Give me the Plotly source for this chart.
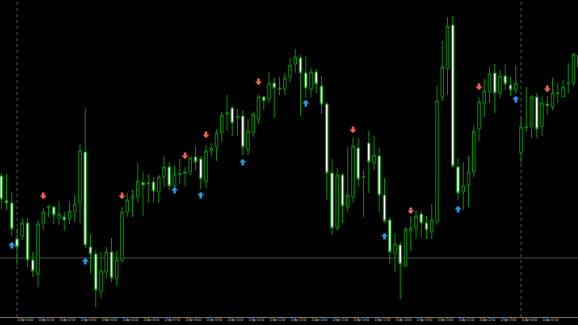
import plotly.graph_objects as go

# bar index: 0 = 13 Apr 00:00 (M15 bars)
bar_index = list(range(-3, 108))

opens = [141, 116.5, 114, 78, 81, 94, 57, 43, 94, 109, 110, 99, 100, 98, 105, 114, 165, 70, 63, 25,
         45, 65, 39, 57, 105, 118, 120, 134.5, 133.5, 135, 125, 140, 150, 131, 142.5, 143.5, 145, 160, 158, 135,
         166, 170, 184, 203, 209, 199, 201, 167, 184, 198, 220, 218, 234, 227.5, 228, 240, 253, 259, 244, 228,
         245, 231, 213, 144, 89, 142, 110, 120, 169, 139.5, 174, 154, 161, 122, 97, 64, 72, 51, 86, 89,
         103, 94, 85, 95, 220, 248, 292, 150, 125, 132, 145, 188, 214, 225, 244, 224, 241, 232, 227, 164,
         189.5, 190, 220, 191, 213, 210, 223.5, 220, 233.5, 234, 262]
highs = [144, 143, 125, 89, 99, 99, 65, 97, 109, 112, 111, 116, 105, 116, 122, 173, 209, 83, 67, 65,
         70, 79, 66, 110, 124, 127, 154, 145, 143, 140, 142, 161, 155, 151, 158, 150, 161, 171, 161, 172,
         174, 188, 205, 222, 211, 208, 207, 198, 205, 222, 221, 245, 239, 240, 244, 259, 268, 262, 261, 249,
         248, 241, 215, 158, 149, 144, 170, 180, 179, 147, 186, 181, 169, 139, 100, 84, 75, 90, 101, 107,
         106, 101, 113, 231, 276, 300, 301, 159, 155, 161, 192, 220, 238, 250, 253, 247, 253, 240, 252, 200,
         230, 222, 224, 221, 221, 239, 234, 237, 254, 264, 267]
lows = [108, 107, 81, 52, 77, 50, 40, 30, 87, 100, 93, 92, 86, 93, 95, 94, 69, 44, 10, 19,
        39, 35, 31, 54, 100, 100, 115, 101, 114, 115, 114, 130, 127, 125, 133, 131, 142, 147, 128, 129,
        160, 156, 175, 186, 181, 181, 162, 162, 180, 193, 207, 214, 199, 222, 222, 235, 244, 201, 219, 220,
        224, 203, 117, 82, 86, 94, 105, 114, 131, 100, 124, 147, 105, 94, 53, 45, 18, 50, 66, 78,
        80, 78, 78, 92, 216, 222, 149, 117, 107, 110, 140, 176, 200, 214, 204, 219, 227, 221, 223, 154,
        185, 179, 179, 181, 202, 207, 214, 220, 224, 231, 247]
closes = [118, 114, 88, 70, 94, 57, 46, 93, 105, 110, 102, 103, 97, 106, 113, 166, 72, 63, 27, 46,
          65, 39, 57, 105, 117, 121, 136, 132, 134, 126, 140, 150, 131, 143, 143, 145, 159, 155, 138, 166,
          169, 184, 202, 204, 194, 201, 170, 186, 203, 220, 216, 234, 229, 229, 239, 252, 260, 244, 229, 245,
          233, 213, 144, 89, 142, 111, 122, 171, 138, 140, 155, 162, 122, 96, 65, 73, 53, 88, 89, 101,
          94, 87, 97, 216, 250, 291, 151, 124, 131, 145, 186, 215, 226, 243, 224, 241, 233, 227, 234, 190,
          190, 220, 188, 214, 211.5, 224, 224, 230, 234, 263, 250]

# signal arrows (bar index, price of arrow tip)
buy_bars = [-1, 13, 30, 35, 43, 55, 70, 84, 95]
buy_tips = [75, 59, 130, 125, 158, 217, 84, 111, 221]
sell_bars = [5, 20, 32, 36, 46, 64, 75, 88, 101]
sell_tips = [118, 118, 158, 179, 232, 184, 103, 227, 225]

bid_level = 59
separator_bars = [0, 96]

label_bars = list(range(0, 108, 4))
label_texts = ["13 Apr %02d:00" % h for h in range(24)] + ["14 Apr %02d:00" % h for h in range(3)]

WICK = "#008c00"

fig = go.Figure()
fig.add_trace(go.Candlestick(
    x=bar_index, open=opens, high=highs, low=lows, close=closes,
    increasing=dict(line=dict(color=WICK, width=1), fillcolor="#000000"),
    decreasing=dict(line=dict(color=WICK, width=1), fillcolor="#ffffff"),
    whiskerwidth=0, showlegend=False, hoverinfo="skip",
))

annotations = []
for b, t in zip(buy_bars, buy_tips):
    annotations.append(dict(x=b, y=t, xref="x", yref="y", ax=0, ay=8, text="",
                            showarrow=True, arrowhead=1, arrowwidth=2.6, arrowsize=0.45,
                            arrowcolor="#1e9de6", standoff=0, startstandoff=0))
for b, t in zip(sell_bars, sell_tips):
    annotations.append(dict(x=b, y=t, xref="x", yref="y", ax=0, ay=-8, text="",
                            showarrow=True, arrowhead=1, arrowwidth=2.6, arrowsize=0.45,
                            arrowcolor="#f4634d", standoff=0, startstandoff=0))

shapes = [dict(type="line", xref="paper", yref="y", x0=0, x1=1, y0=bid_level, y1=bid_level,
               line=dict(color="#4a4a4a", width=1), layer="below")]
for s in separator_bars:
    shapes.append(dict(type="line", xref="x", yref="paper", x0=s, x1=s, y0=0, y1=1,
                       line=dict(color="#505050", width=1, dash="dot"), layer="below"))

fig.update_layout(
    width=578, height=325,
    margin=dict(l=0, r=0, t=0, b=8, pad=0),
    paper_bgcolor="#000000", plot_bgcolor="#000000",
    showlegend=False,
    boxgap=0.3,
    annotations=annotations,
    shapes=shapes,
    xaxis=dict(range=[-3.238, 106.857], rangeslider=dict(visible=False),
               tickmode="array", tickvals=label_bars, ticktext=label_texts,
               ticklabelposition="outside right", tickangle=0, automargin=False,
               tickfont=dict(family="Liberation Sans", size=2.8, color="#c8c8c8"),
               ticks="", showgrid=False, zeroline=False,
               showline=True, linecolor="#707070", linewidth=1),
    yaxis=dict(range=[0, 317], showticklabels=False, showgrid=False, zeroline=False, ticks="",
               automargin=False),
)

fig.write_html("out.html")
